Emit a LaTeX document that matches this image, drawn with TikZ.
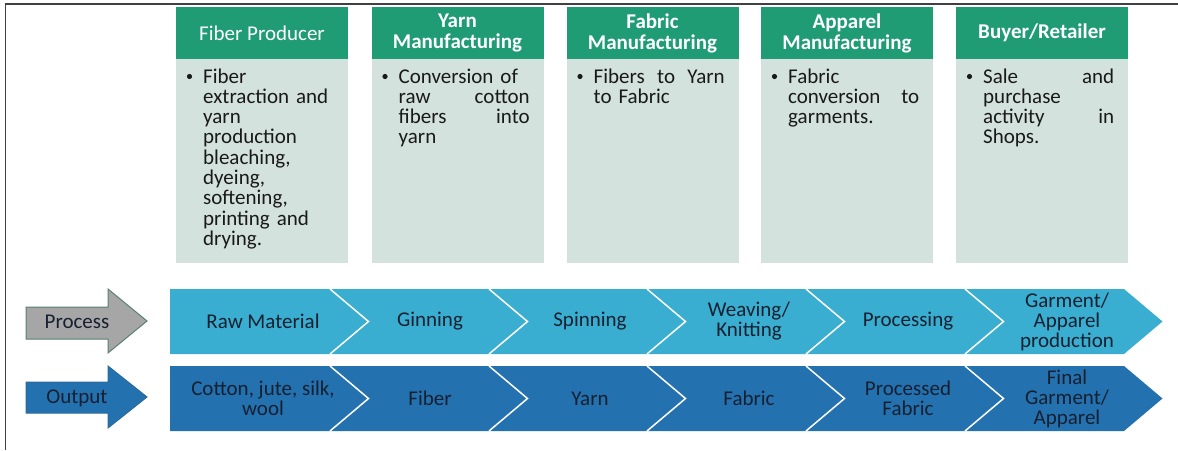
\documentclass[tikz,border=0pt]{standalone}
\usepackage{fontspec}
\setmainfont{Carlito}
\definecolor{hdrgreen}{RGB}{32,156,117}
\definecolor{bodygrey}{RGB}{211,226,221}
\definecolor{procblue}{RGB}{58,174,208}
\definecolor{outblue}{RGB}{36,113,176}
\definecolor{outedge}{RGB}{44,106,156}
\definecolor{labelink}{RGB}{22,32,48}
\definecolor{arrowgrey}{RGB}{166,166,166}
\definecolor{arrowedge}{RGB}{90,128,112}
\begin{document}
\begin{tikzpicture}[x=1pt,y=-1pt,
  hdr/.style={fill=hdrgreen, text=white, align=center, inner sep=0pt,
    minimum width=172pt, minimum height=52pt,
    font=\fontsize{21}{21}\selectfont},
  colbody/.style={fill=bodygrey, inner sep=0pt, minimum width=172pt, minimum height=204pt},
  bodytext/.style={text=black!90, align=left, text width=131pt, inner sep=0pt,
    anchor=base west, font=\fontsize{21}{20.3}\selectfont},
  chevlabel/.style={text=labelink, align=center, inner sep=0pt,
    font=\fontsize{21}{20}\selectfont},
  sepline/.style={white, line width=1.5pt},
]
\useasboundingbox (0,0) rectangle (1178,450);

% frame lines
\draw[line width=1.3pt, black!75] (5.5,450) -- (5.5,4) -- (1178,4);

% ---- stage columns ----
\node[hdr] (h1) at (262,33) {Fiber Producer};
\node[hdr] (h2) at (457.5,33) {\bfseries Yarn\\\bfseries Manufacturing};
\node[hdr] (h3) at (652.5,33) {\bfseries Fabric\\\bfseries Manufacturing};
\node[hdr] (h4) at (847,33) {\bfseries Apparel\\\bfseries Manufacturing};
\node[hdr] (h5) at (1042,33) {\bfseries Buyer/Retailer};

\node[colbody] (b1) at (262,161) {};
\node[colbody] (b2) at (457.5,161) {};
\node[colbody] (b3) at (652.5,161) {};
\node[colbody] (b4) at (847,161) {};
\node[colbody] (b5) at (1042,161) {};

\foreach \cx in {176,371.5,566.5,761,956}
  \fill[black!90] (\cx+13.5,76.5) circle (2.6pt);

\node[bodytext] (t1) at (203,83) {Fiber\\extraction and\\yarn\\production\\bleaching,\\dyeing,\\softening,\\printing and\\drying.};
\node[bodytext] (t2) at (398.5,83) {Conversion of\\raw\hfill cotton\\fibers\hfill into\\yarn};
\node[bodytext] (t3) at (593.5,83) {Fibers\hfill to\hfill Yarn\\to Fabric};
\node[bodytext] (t4) at (788,83) {Fabric\\conversion\hfill to\\garments.};
\node[bodytext] (t5) at (983,83) {Sale\hfill and\\purchase\\activity\hfill in\\Shops.};

% ---- process row ----
\filldraw[fill=arrowgrey, draw=arrowedge, line width=1pt]
  (26,307) -- (108,307) -- (108,289) -- (147,321) -- (108,353) -- (108,339) -- (26,339) -- cycle;
\node[chevlabel] (plabel) at (77,322) {Process};

\fill[procblue] (170,289) -- (1124,289) -- (1162.5,321.5) -- (1124,354) -- (170,354) -- cycle;
\foreach \b in {330,489,647,806,965}
  \draw[sepline] (\b,289) -- (\b+38.5,321.5) -- (\b,354);

\node[chevlabel] (p1) at (263,321.5) {Raw Material};
\node[chevlabel] (p2) at (430,321.5) {Ginning};
\node[chevlabel] (p3) at (590,321.5) {Spinning};
\node[chevlabel] (p4) at (749,321.5) {Weaving/\\Knitting};
\node[chevlabel] (p5) at (908,321.5) {Processing};
\node[chevlabel] (p6) at (1067,321.5) {Garment/\\Apparel\\production};

% ---- output row ----
\filldraw[fill=outblue, draw=outedge, line width=1pt]
  (26,382) -- (108,382) -- (108,366) -- (147,397) -- (108,428) -- (108,413) -- (26,413) -- cycle;
\node[chevlabel] (olabel) at (77,398) {Output};

\fill[outblue] (170,366) -- (1124,366) -- (1162.5,398.5) -- (1124,431) -- (170,431) -- cycle;
\foreach \b in {330,489,647,806,965}
  \draw[sepline] (\b,366) -- (\b+38.5,398.5) -- (\b,431);

\node[chevlabel] (o1) at (263,398.5) {Cotton, jute, silk,\\wool};
\node[chevlabel] (o2) at (430,398.5) {Fiber};
\node[chevlabel] (o3) at (590,398.5) {Yarn};
\node[chevlabel] (o4) at (749,398.5) {Fabric};
\node[chevlabel] (o5) at (908,398.5) {Processed\\Fabric};
\node[chevlabel] (o6) at (1067,398.5) {Final\\Garment/\\Apparel};
\end{tikzpicture}
\end{document}
